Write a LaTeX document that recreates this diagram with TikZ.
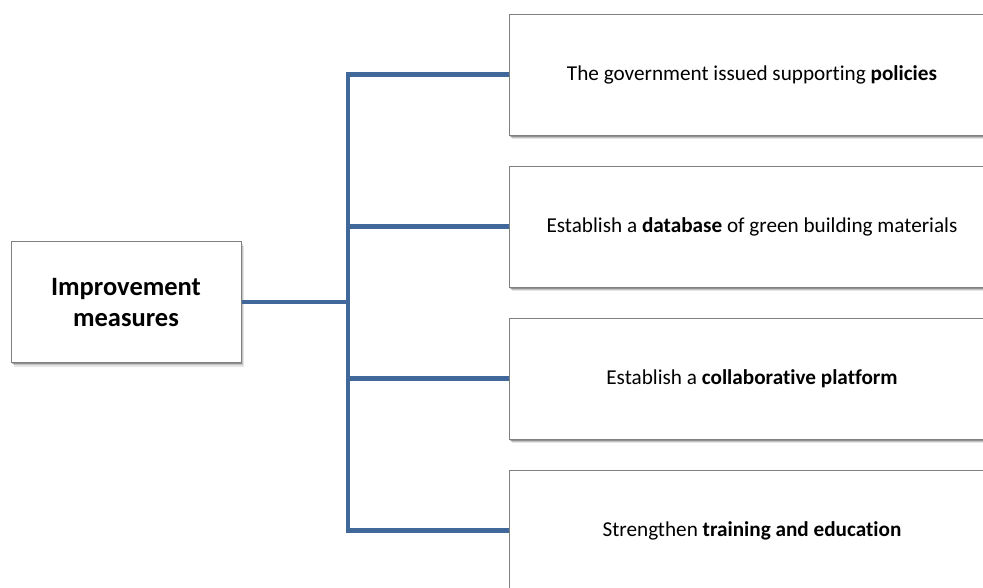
\documentclass[tikz,border=0pt]{standalone}
\usepackage{fontspec}
\setmainfont[Ligatures=NoCommon]{Carlito}
\usetikzlibrary{shadows}
\definecolor{linkblue}{RGB}{65,104,155}
\definecolor{boxedge}{RGB}{128,128,128}
\tikzset{
  card/.style={draw=boxedge, line width=1pt, fill=white, rectangle,
    minimum height=121pt, align=center,
    general shadow={fill=black, opacity=0.10, shadow xshift=3pt, shadow yshift=-4pt},
    general shadow={fill=black, opacity=0.15, shadow xshift=2pt, shadow yshift=-2.8pt},
    general shadow={fill=black, opacity=0.25, shadow xshift=1pt, shadow yshift=-1.5pt}},
  rootcard/.style={card, minimum width=230pt, font=\fontsize{26.5}{31}\selectfont\bfseries},
  leafcard/.style={card, minimum width=486pt, font=\fontsize{21.2}{25}\selectfont},
  link/.style={draw=linkblue, line width=4.5pt, line join=miter}
}
\begin{document}
\begin{tikzpicture}[x=1pt, y=-1pt]
  \useasboundingbox (0,0) rectangle (983,587);
  \clip (0,0) rectangle (983,587);
  \fill[white] (0,0) rectangle (983,587);

  % branch cards
  \node[leafcard] (p1) at (752,74.5) {The government issued supporting \textbf{policies}};
  \node[leafcard] (p2) at (752,226.5) {Establish a \textbf{database} of green building materials};
  \node[leafcard] (p3) at (752,378.5) {Establish a \textbf{collaborative platform}};
  \node[leafcard] (p4) at (752,530.5) {Strengthen \textbf{training and education}};

  % root card
  \node[rootcard] (root) at (126,302) {Improvement\\measures};

  % tree connectors
  \coordinate (trunk) at (348,0);
  \draw[link] (p1.west) -- (p1.west -| trunk) -- (p4.west -| trunk) -- (p4.west);
  \draw[link] (p2.west) -- (p2.west -| trunk);
  \draw[link] (p3.west) -- (p3.west -| trunk);
  \draw[link] (root.east) -- (root.east -| trunk);
\end{tikzpicture}
\end{document}
